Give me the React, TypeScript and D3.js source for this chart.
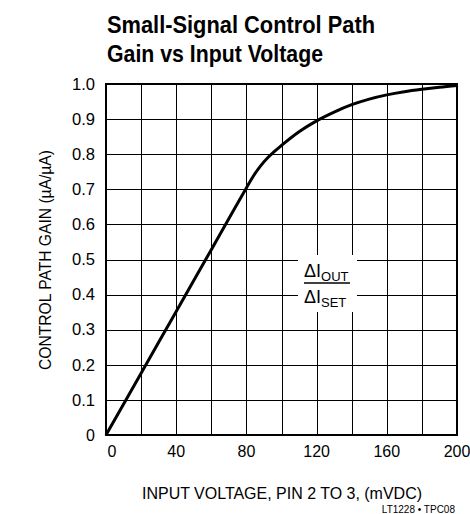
import React from "react";
import * as d3 from "d3";

const voltage = [0, 20, 40, 60, 80, 84, 88, 92, 96, 100, 110, 120, 130, 140, 150, 160, 170, 180, 190, 200];
const gain = [0, 0.176, 0.352, 0.528, 0.704, 0.738, 0.766, 0.789, 0.808, 0.825, 0.864, 0.895, 0.92, 0.941, 0.957, 0.969, 0.978, 0.985, 0.991, 0.996];
const xTicks = [0, 40, 80, 120, 160, 200];
const xGrid = [0, 20, 40, 60, 80, 100, 120, 140, 160, 180, 200];
const yTicks = [0, 0.1, 0.2, 0.3, 0.4, 0.5, 0.6, 0.7, 0.8, 0.9, 1.0];
const yLabels = ["0", "0.1", "0.2", "0.3", "0.4", "0.5", "0.6", "0.7", "0.8", "0.9", "1.0"];

const W = 470, H = 514;
const L = 106, R = 457, T = 84, B = 435;
const font = "'Liberation Sans', Arial, Helvetica, sans-serif";

export default function App() {
  const x = d3.scaleLinear().domain([0, 200]).range([L, R]);
  const y = d3.scaleLinear().domain([0, 1]).range([B, T]);
  const pts = voltage.map((v, i) => [v, gain[i]] as [number, number]);
  const line = d3.line<[number, number]>().x(d => x(d[0])).y(d => y(d[1])).curve(d3.curveMonotoneX);

  return (
    <svg width={W} height={H} style={{ position: "absolute", left: 0, top: 0, background: "#fff" }} fontFamily={font}>
      <rect x={0} y={0} width={W} height={H} fill="#fff" />
      <text x={107} y={33} fontSize={24} fontWeight="bold" textLength={268} lengthAdjust="spacingAndGlyphs">Small-Signal Control Path</text>
      <text x={107} y={62} fontSize={24} fontWeight="bold" textLength={216} lengthAdjust="spacingAndGlyphs">Gain vs Input Voltage</text>

      {xGrid.map(v => (
        <line key={"vx" + v} x1={Math.round(x(v)) + 0.5} x2={Math.round(x(v)) + 0.5} y1={T} y2={B} stroke="#000" strokeWidth={1} />
      ))}
      {yTicks.map(v => (
        <line key={"hy" + v} x1={L} x2={R} y1={Math.round(y(v)) + 0.5} y2={Math.round(y(v)) + 0.5} stroke="#000" strokeWidth={1} />
      ))}
      <rect x={L} y={T} width={R - L} height={B - T} fill="none" stroke="#000" strokeWidth={2} />

      <rect x={298} y={255} width={59} height={57} fill="#fff" />
      <text x={304} y={277} fontSize={18}>ΔI<tspan fontSize={13} dy={4}>OUT</tspan></text>
      <line x1={304} x2={350} y1={283} y2={283} stroke="#000" strokeWidth={1.5} />
      <text x={304} y={303} fontSize={18}>ΔI<tspan fontSize={13} dy={4}>SET</tspan></text>

      <path d={line(pts) || ""} fill="none" stroke="#000" strokeWidth={3} strokeLinejoin="round" />

      {yTicks.map((v, i) => (
        <text key={"yl" + v} x={95} y={y(v)} dy="0.36em" textAnchor="end" fontSize={16} textLength={i === 0 ? undefined : 23} lengthAdjust="spacingAndGlyphs">{yLabels[i]}</text>
      ))}
      {xTicks.map(v => (
        <text key={"xl" + v} x={v === 0 ? x(v) + 6 : x(v)} y={457} textAnchor="middle" fontSize={16}>{v}</text>
      ))}

      <text x={282} y={499} textAnchor="middle" fontSize={16} textLength={280} lengthAdjust="spacingAndGlyphs">INPUT VOLTAGE, PIN 2 TO 3, (mVDC)</text>
      <text transform={`translate(51,260) rotate(-90)`} textAnchor="middle" fontSize={16} textLength={220} lengthAdjust="spacingAndGlyphs">CONTROL PATH GAIN (µA/µA)</text>
      <text x={455} y={513} textAnchor="end" fontSize={10}>LT1228 • TPC08</text>
    </svg>
  );
}
